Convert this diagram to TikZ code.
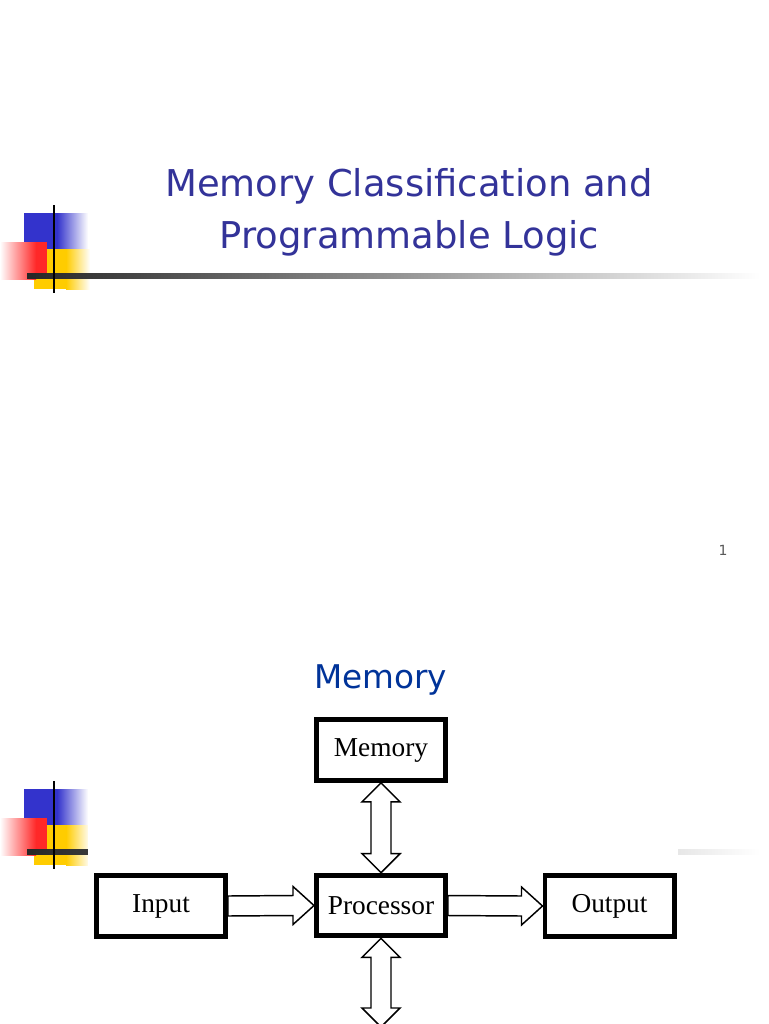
\documentclass[tikz,border=0pt]{standalone}
\usepackage{fontspec}
\usepackage{graphicx}
\setmainfont{Liberation Serif}
\newfontfamily\titlefont{DejaVu Sans}
\usetikzlibrary{calc}
\pgfdeclarelayer{back}
\pgfdeclarelayer{bg}
\pgfsetlayers{back,bg,main}
\definecolor{titleblue}{RGB}{51,51,153}
\definecolor{headblue}{RGB}{0,51,153}
\definecolor{decoblue}{RGB}{51,51,204}
\definecolor{decored}{RGB}{255,40,40}
\definecolor{decoyellow}{RGB}{255,204,0}
\definecolor{bardark}{RGB}{38,38,38}
\newcommand{\slidedeco}{%
  \fill[decoblue] (24,213) rectangle (57,250);
  \shade[left color=decoblue, right color=white] (57,213) rectangle (88,250);
  \fill[decoyellow] (34,249) rectangle (66,289);
  \shade[left color=decoyellow, right color=white] (66,249) rectangle (90,289);
  \shade[left color=white, right color=decored] (0,242) rectangle (36,279);
  \fill[decored] (35.5,242) rectangle (47,279);
  \shade[left color=bardark, middle color=black!50, right color=white] (27,273) rectangle (760,278);
  \draw[line width=1.5pt] (54,205) -- (54,293);
}
\newcommand{\boxtext}[1]{\raisebox{-1.5pt}{#1}}
\begin{document}
\begin{tikzpicture}[x=0.75pt,y=-0.75pt,
  box/.style={draw=black, line width=3.7pt, minimum width=96.8pt, minimum height=45.5pt, inner sep=0pt, font=\fontsize{20.5}{24}\selectfont, fill=white},
  fat/.style={draw=black, line width=1.1pt, fill=white, line join=miter},
  titletext/.style={font=\titlefont\fontsize{27.7}{33}\selectfont, text=titleblue, anchor=base, inner sep=0pt}]
\useasboundingbox (0,0) rectangle (768,1024);
\clip (0,0) rectangle (768,1024);
\begin{pgfonlayer}{back}
  \fill[white] (0,0) rectangle (768,1024);
  \slidedeco
  \begin{scope}[shift={(0,576)}]
    \slidedeco
  \end{scope}
  \fill[white] (88,700) rectangle (678,1024);
\end{pgfonlayer}

% slide 1
\node[titletext] (t1) at (409,196) {Memory Classification and};
\node[titletext] (t2) at (409.5,248) {Programmable Logic};
\node[font=\titlefont\fontsize{10.5}{12}\selectfont, text=black!65] (pg) at (723,550) {1};

% slide 2
\node[font=\titlefont\fontsize{24.5}{29}\selectfont, text=headblue, anchor=base, inner sep=0pt] (t3) at (380.5,688) {Memory};

\node[box] (mem) at (381,750) {\boxtext{Memory}};
\node[box] (pro) at (381,905.5) {\boxtext{Processor}};
\node[box] (inp) at (161,906) {\boxtext{Input}};
\node[box] (out) at (609.5,906) {\boxtext{Output}};
\coordinate (bot) at (381,1027);

\begin{pgfonlayer}{bg}
  \draw[fat] ($(inp.east)+(0,-10)$) -- ($(pro.west)+(-21,-10)$) -- ($(pro.west)+(-21,-19)$) -- (pro.west) -- ($(pro.west)+(-21,19)$) -- ($(pro.west)+(-21,10)$) -- ($(inp.east)+(0,10)$) -- cycle;
  \draw[fat] ($(pro.east)+(0,-10)$) -- ($(out.west)+(-21,-10)$) -- ($(out.west)+(-21,-19)$) -- (out.west) -- ($(out.west)+(-21,19)$) -- ($(out.west)+(-21,10)$) -- ($(pro.east)+(0,10)$) -- cycle;
  \draw[fat] (mem.south) -- ($(mem.south)+(19,19)$) -- ($(mem.south)+(10,19)$) -- ($(pro.north)+(10,-19)$) -- ($(pro.north)+(19,-19)$) -- (pro.north) -- ($(pro.north)+(-19,-19)$) -- ($(pro.north)+(-10,-19)$) -- ($(mem.south)+(-10,19)$) -- ($(mem.south)+(-19,19)$) -- cycle;
  \draw[fat] (pro.south) -- ($(pro.south)+(19,19)$) -- ($(pro.south)+(10,19)$) -- ($(bot)+(10,-19)$) -- ($(bot)+(19,-19)$) -- (bot) -- ($(bot)+(-19,-19)$) -- ($(bot)+(-10,-19)$) -- ($(pro.south)+(-10,19)$) -- ($(pro.south)+(-19,19)$) -- cycle;
\end{pgfonlayer}
\end{tikzpicture}
\end{document}
